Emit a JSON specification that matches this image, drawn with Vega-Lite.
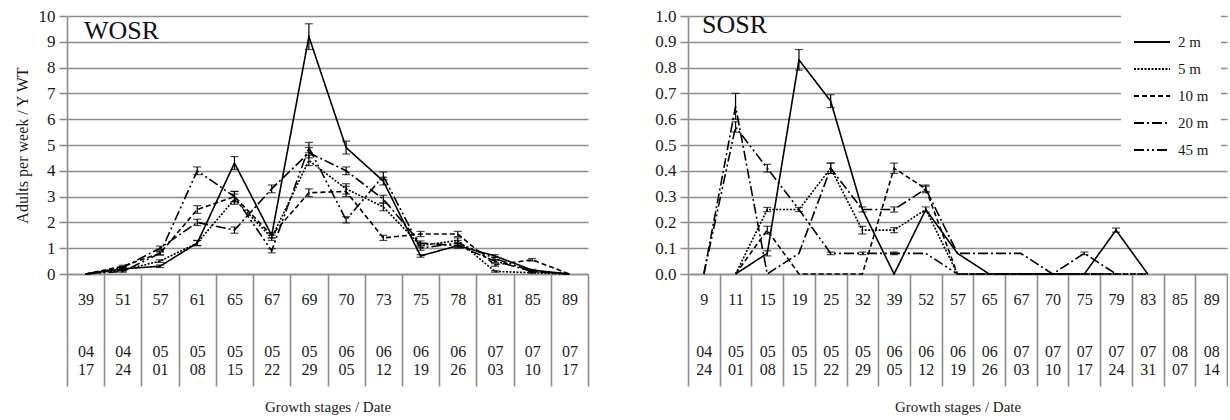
{
  "$schema": "https://vega.github.io/schema/vega-lite/v6.json",
  "background": "white",
  "padding": {"left": 14, "top": 7, "right": 0, "bottom": 0},
  "spacing": 65,
  "config": {
    "font": "Liberation Serif, Times New Roman, serif",
    "view": {"stroke": null},
    "axis": {
      "labelFont": "Liberation Serif, Times New Roman, serif",
      "titleFont": "Liberation Serif, Times New Roman, serif",
      "labelColor": "#1a1a1a",
      "titleColor": "#1a1a1a",
      "titleFontWeight": "normal",
      "gridColor": "#8c8c8c",
      "gridWidth": 1.6,
      "domainColor": "#8c8c8c",
      "domainWidth": 1.6,
      "tickColor": "#8c8c8c",
      "tickWidth": 1.6
    },
    "legend": {"labelFont": "Liberation Serif, Times New Roman, serif"}
  },
  "resolve": {"scale": {"strokeDash": "independent"}, "legend": {"strokeDash": "independent"}},
  "datasets": {
    "wosr": [
      {"s": "2 m", "gs": "39|04|17", "v": 0, "e": 0},
      {"s": "2 m", "gs": "51|04|24", "v": 0.2, "e": 0.04},
      {"s": "2 m", "gs": "57|05|01", "v": 0.3, "e": 0.05},
      {"s": "2 m", "gs": "61|05|08", "v": 1.2, "e": 0.1},
      {"s": "2 m", "gs": "65|05|15", "v": 4.3, "e": 0.25},
      {"s": "2 m", "gs": "67|05|22", "v": 1.5, "e": 0.1},
      {"s": "2 m", "gs": "69|05|29", "v": 9.2, "e": 0.5},
      {"s": "2 m", "gs": "70|06|05", "v": 4.9, "e": 0.25},
      {"s": "2 m", "gs": "73|06|12", "v": 3.6, "e": 0.15},
      {"s": "2 m", "gs": "75|06|19", "v": 0.7, "e": 0.05},
      {"s": "2 m", "gs": "78|06|26", "v": 1.1, "e": 0.1},
      {"s": "2 m", "gs": "81|07|03", "v": 0.7, "e": 0.05},
      {"s": "2 m", "gs": "85|07|10", "v": 0.15, "e": 0.03},
      {"s": "2 m", "gs": "89|07|17", "v": 0, "e": 0},
      {"s": "5 m", "gs": "39|04|17", "v": 0, "e": 0},
      {"s": "5 m", "gs": "51|04|24", "v": 0.15, "e": 0.03},
      {"s": "5 m", "gs": "57|05|01", "v": 0.5, "e": 0.05},
      {"s": "5 m", "gs": "61|05|08", "v": 1.2, "e": 0.1},
      {"s": "5 m", "gs": "65|05|15", "v": 2.9, "e": 0.2},
      {"s": "5 m", "gs": "67|05|22", "v": 1.4, "e": 0.1},
      {"s": "5 m", "gs": "69|05|29", "v": 4.4, "e": 0.2},
      {"s": "5 m", "gs": "70|06|05", "v": 3.3, "e": 0.2},
      {"s": "5 m", "gs": "73|06|12", "v": 2.6, "e": 0.15},
      {"s": "5 m", "gs": "75|06|19", "v": 1.1, "e": 0.08},
      {"s": "5 m", "gs": "78|06|26", "v": 1.3, "e": 0.1},
      {"s": "5 m", "gs": "81|07|03", "v": 0.1, "e": 0.03},
      {"s": "5 m", "gs": "85|07|10", "v": 0.05, "e": 0.02},
      {"s": "5 m", "gs": "89|07|17", "v": 0, "e": 0},
      {"s": "10 m", "gs": "39|04|17", "v": 0, "e": 0},
      {"s": "10 m", "gs": "51|04|24", "v": 0.3, "e": 0.04},
      {"s": "10 m", "gs": "57|05|01", "v": 0.8, "e": 0.06},
      {"s": "10 m", "gs": "61|05|08", "v": 2.5, "e": 0.15},
      {"s": "10 m", "gs": "65|05|15", "v": 3.0, "e": 0.2},
      {"s": "10 m", "gs": "67|05|22", "v": 1.5, "e": 0.1},
      {"s": "10 m", "gs": "69|05|29", "v": 3.15, "e": 0.15},
      {"s": "10 m", "gs": "70|06|05", "v": 3.2, "e": 0.2},
      {"s": "10 m", "gs": "73|06|12", "v": 1.4, "e": 0.1},
      {"s": "10 m", "gs": "75|06|19", "v": 1.55, "e": 0.1},
      {"s": "10 m", "gs": "78|06|26", "v": 1.55, "e": 0.1},
      {"s": "10 m", "gs": "81|07|03", "v": 0.35, "e": 0.05},
      {"s": "10 m", "gs": "85|07|10", "v": 0.55, "e": 0.05},
      {"s": "10 m", "gs": "89|07|17", "v": 0, "e": 0},
      {"s": "20 m", "gs": "39|04|17", "v": 0, "e": 0},
      {"s": "20 m", "gs": "51|04|24", "v": 0.25, "e": 0.04},
      {"s": "20 m", "gs": "57|05|01", "v": 1.0, "e": 0.08},
      {"s": "20 m", "gs": "61|05|08", "v": 2.0, "e": 0.12},
      {"s": "20 m", "gs": "65|05|15", "v": 1.7, "e": 0.12},
      {"s": "20 m", "gs": "67|05|22", "v": 3.3, "e": 0.15},
      {"s": "20 m", "gs": "69|05|29", "v": 4.7, "e": 0.2},
      {"s": "20 m", "gs": "70|06|05", "v": 4.0, "e": 0.15},
      {"s": "20 m", "gs": "73|06|12", "v": 2.9, "e": 0.15},
      {"s": "20 m", "gs": "75|06|19", "v": 1.2, "e": 0.08},
      {"s": "20 m", "gs": "78|06|26", "v": 1.1, "e": 0.08},
      {"s": "20 m", "gs": "81|07|03", "v": 0.5, "e": 0.05},
      {"s": "20 m", "gs": "85|07|10", "v": 0.1, "e": 0.02},
      {"s": "20 m", "gs": "89|07|17", "v": 0, "e": 0},
      {"s": "45 m", "gs": "39|04|17", "v": 0, "e": 0},
      {"s": "45 m", "gs": "51|04|24", "v": 0.1, "e": 0.03},
      {"s": "45 m", "gs": "57|05|01", "v": 0.8, "e": 0.06},
      {"s": "45 m", "gs": "61|05|08", "v": 4.0, "e": 0.15},
      {"s": "45 m", "gs": "65|05|15", "v": 3.0, "e": 0.2},
      {"s": "45 m", "gs": "67|05|22", "v": 0.9, "e": 0.08},
      {"s": "45 m", "gs": "69|05|29", "v": 4.9, "e": 0.2},
      {"s": "45 m", "gs": "70|06|05", "v": 2.1, "e": 0.12},
      {"s": "45 m", "gs": "73|06|12", "v": 3.8, "e": 0.15},
      {"s": "45 m", "gs": "75|06|19", "v": 1.0, "e": 0.08},
      {"s": "45 m", "gs": "78|06|26", "v": 1.2, "e": 0.1},
      {"s": "45 m", "gs": "81|07|03", "v": 0.6, "e": 0.05},
      {"s": "45 m", "gs": "85|07|10", "v": 0.1, "e": 0.02},
      {"s": "45 m", "gs": "89|07|17", "v": 0, "e": 0}
    ],
    "sosr": [
      {"s": "2 m", "gs": "11|05|01", "v": 0, "e": 0},
      {"s": "2 m", "gs": "15|05|08", "v": 0.08, "e": 0.01},
      {"s": "2 m", "gs": "19|05|15", "v": 0.83, "e": 0.04},
      {"s": "2 m", "gs": "25|05|22", "v": 0.67, "e": 0.025},
      {"s": "2 m", "gs": "32|05|29", "v": 0.25, "e": 0},
      {"s": "2 m", "gs": "39|06|05", "v": 0, "e": 0},
      {"s": "2 m", "gs": "52|06|12", "v": 0.25, "e": 0.01},
      {"s": "2 m", "gs": "57|06|19", "v": 0.08, "e": 0},
      {"s": "2 m", "gs": "65|06|26", "v": 0, "e": 0},
      {"s": "2 m", "gs": "67|07|03", "v": 0, "e": 0},
      {"s": "2 m", "gs": "70|07|10", "v": 0, "e": 0},
      {"s": "2 m", "gs": "75|07|17", "v": 0, "e": 0},
      {"s": "2 m", "gs": "79|07|24", "v": 0.17, "e": 0.008},
      {"s": "2 m", "gs": "83|07|31", "v": 0, "e": 0},
      {"s": "5 m", "gs": "11|05|01", "v": 0, "e": 0},
      {"s": "5 m", "gs": "15|05|08", "v": 0.25, "e": 0.008},
      {"s": "5 m", "gs": "19|05|15", "v": 0.25, "e": 0.008},
      {"s": "5 m", "gs": "25|05|22", "v": 0.41, "e": 0.02},
      {"s": "5 m", "gs": "32|05|29", "v": 0.17, "e": 0.015},
      {"s": "5 m", "gs": "39|06|05", "v": 0.17, "e": 0.01},
      {"s": "5 m", "gs": "52|06|12", "v": 0.25, "e": 0},
      {"s": "5 m", "gs": "57|06|19", "v": 0, "e": 0},
      {"s": "5 m", "gs": "65|06|26", "v": 0, "e": 0},
      {"s": "5 m", "gs": "67|07|03", "v": 0, "e": 0},
      {"s": "5 m", "gs": "70|07|10", "v": 0, "e": 0},
      {"s": "5 m", "gs": "75|07|17", "v": 0, "e": 0},
      {"s": "5 m", "gs": "79|07|24", "v": 0, "e": 0},
      {"s": "5 m", "gs": "83|07|31", "v": 0, "e": 0},
      {"s": "10 m", "gs": "11|05|01", "v": 0, "e": 0},
      {"s": "10 m", "gs": "15|05|08", "v": 0.17, "e": 0.015},
      {"s": "10 m", "gs": "19|05|15", "v": 0, "e": 0},
      {"s": "10 m", "gs": "25|05|22", "v": 0, "e": 0},
      {"s": "10 m", "gs": "32|05|29", "v": 0, "e": 0},
      {"s": "10 m", "gs": "39|06|05", "v": 0.41, "e": 0.02},
      {"s": "10 m", "gs": "52|06|12", "v": 0.33, "e": 0.015},
      {"s": "10 m", "gs": "57|06|19", "v": 0, "e": 0},
      {"s": "10 m", "gs": "65|06|26", "v": 0, "e": 0},
      {"s": "10 m", "gs": "67|07|03", "v": 0, "e": 0},
      {"s": "10 m", "gs": "70|07|10", "v": 0, "e": 0},
      {"s": "10 m", "gs": "75|07|17", "v": 0, "e": 0},
      {"s": "10 m", "gs": "79|07|24", "v": 0, "e": 0},
      {"s": "10 m", "gs": "83|07|31", "v": 0, "e": 0},
      {"s": "20 m", "gs": "9|04|24", "v": 0, "e": 0},
      {"s": "20 m", "gs": "11|05|01", "v": 0.65, "e": 0.05},
      {"s": "20 m", "gs": "15|05|08", "v": 0, "e": 0},
      {"s": "20 m", "gs": "19|05|15", "v": 0.08, "e": 0},
      {"s": "20 m", "gs": "25|05|22", "v": 0.41, "e": 0.02},
      {"s": "20 m", "gs": "32|05|29", "v": 0.25, "e": 0.01},
      {"s": "20 m", "gs": "39|06|05", "v": 0.25, "e": 0.01},
      {"s": "20 m", "gs": "52|06|12", "v": 0.33, "e": 0.01},
      {"s": "20 m", "gs": "57|06|19", "v": 0.08, "e": 0},
      {"s": "20 m", "gs": "65|06|26", "v": 0.08, "e": 0},
      {"s": "20 m", "gs": "67|07|03", "v": 0.08, "e": 0},
      {"s": "20 m", "gs": "70|07|10", "v": 0, "e": 0},
      {"s": "20 m", "gs": "75|07|17", "v": 0.08, "e": 0.005},
      {"s": "20 m", "gs": "79|07|24", "v": 0, "e": 0},
      {"s": "45 m", "gs": "9|04|24", "v": 0, "e": 0},
      {"s": "45 m", "gs": "11|05|01", "v": 0.57, "e": 0.02},
      {"s": "45 m", "gs": "15|05|08", "v": 0.41, "e": 0.015},
      {"s": "45 m", "gs": "19|05|15", "v": 0.25, "e": 0},
      {"s": "45 m", "gs": "25|05|22", "v": 0.08, "e": 0.005},
      {"s": "45 m", "gs": "32|05|29", "v": 0.08, "e": 0.005},
      {"s": "45 m", "gs": "39|06|05", "v": 0.08, "e": 0.005},
      {"s": "45 m", "gs": "52|06|12", "v": 0.08, "e": 0},
      {"s": "45 m", "gs": "57|06|19", "v": 0, "e": 0},
      {"s": "45 m", "gs": "65|06|26", "v": 0, "e": 0},
      {"s": "45 m", "gs": "67|07|03", "v": 0, "e": 0},
      {"s": "45 m", "gs": "70|07|10", "v": 0, "e": 0},
      {"s": "45 m", "gs": "75|07|17", "v": 0, "e": 0},
      {"s": "45 m", "gs": "79|07|24", "v": 0, "e": 0}
    ]
  },
  "hconcat": [
    {
      "width": 521,
      "height": 258,
      "title": {"text": "WOSR", "anchor": "start", "frame": "group", "offset": -37, "dx": 17, "fontSize": 26, "font": "Liberation Serif, Times New Roman, serif", "fontWeight": "normal", "color": "#111111"},
      "data": {"name": "wosr"},
      "encoding": {
        "x": {
          "field": "gs", "type": "ordinal",
          "scale": {"type": "band", "paddingInner": 0, "paddingOuter": 0, "domain": ["39|04|17", "51|04|24", "57|05|01", "61|05|08", "65|05|15", "67|05|22", "69|05|29", "70|06|05", "73|06|12", "75|06|19", "78|06|26", "81|07|03", "85|07|10", "89|07|17"]},
          "axis": {"title": "Growth stages / Date", "titleFontSize": 15, "titlePadding": 13, "labelAngle": 0, "labelFontSize": 16, "labelExpr": "isString(datum.value) ? [split(datum.value,'|')[0], '\u2800', '\u2800', split(datum.value,'|')[1], split(datum.value,'|')[2]] : ''", "labelLineHeight": 17.5, "labelBaseline": "top", "labelOverlap": false, "labelBound": false, "labelFlush": false, "tickBand": "extent", "tickSize": 112, "labelPadding": -95, "grid": false}
        },
        "y": {"field": "v", "type": "quantitative", "scale": {"domain": [0, 10]}, "axis": {"values": [0, 1, 2, 3, 4, 5, 6, 7, 8, 9, 10], "title": "Adults per week / Y WT", "titleFontSize": 16, "titlePadding": 8, "labelFontSize": 17, "tickSize": 8, "labelPadding": 4, "grid": true}}
      },
      "layer": [
        {
          "mark": {"type": "line", "color": "#000000", "strokeWidth": 1.6},
          "encoding": {
            "strokeDash": {"field": "s", "type": "nominal", "scale": {"domain": ["2 m", "5 m", "10 m", "20 m", "45 m"], "range": [[1, 0], [2, 1.5], [5, 3], [10, 3, 2, 3], [10, 3, 2, 3, 2, 3]]}, "legend": null}
          }
        },
        {
          "transform": [{"filter": "datum.e > 0"}],
          "mark": {"type": "errorbar", "ticks": {"size": 8, "color": "#000000"}, "color": "#000000", "thickness": 1.2},
          "encoding": {
            "yError": {"field": "e"}
          }
        }
      ]
    },
    {
      "width": 539,
      "height": 258,
      "title": {"text": "SOSR", "anchor": "start", "frame": "group", "offset": -31, "dx": 14, "fontSize": 26, "font": "Liberation Serif, Times New Roman, serif", "fontWeight": "normal", "color": "#111111"},
      "data": {"name": "sosr"},
      "encoding": {
        "x": {
          "field": "gs", "type": "ordinal",
          "scale": {"type": "band", "paddingInner": 0, "paddingOuter": 0, "domain": ["9|04|24", "11|05|01", "15|05|08", "19|05|15", "25|05|22", "32|05|29", "39|06|05", "52|06|12", "57|06|19", "65|06|26", "67|07|03", "70|07|10", "75|07|17", "79|07|24", "83|07|31", "85|08|07", "89|08|14"]},
          "axis": {"title": "Growth stages / Date", "titleFontSize": 15, "titlePadding": 13, "labelAngle": 0, "labelFontSize": 16, "labelExpr": "isString(datum.value) ? [split(datum.value,'|')[0], '\u2800', '\u2800', split(datum.value,'|')[1], split(datum.value,'|')[2]] : ''", "labelLineHeight": 17.5, "labelBaseline": "top", "labelOverlap": false, "labelBound": false, "labelFlush": false, "tickBand": "extent", "tickSize": 112, "labelPadding": -95, "grid": false}
        },
        "y": {"field": "v", "type": "quantitative", "scale": {"domain": [0, 1]}, "axis": {"values": [0, 0.1, 0.2, 0.3, 0.4, 0.5, 0.6, 0.7, 0.8, 0.9, 1.0], "format": ".1f", "title": null, "labelFontSize": 17, "tickSize": 8, "labelPadding": 4, "grid": true}}
      },
      "layer": [
        {
          "mark": {"type": "line", "color": "#000000", "strokeWidth": 1.6},
          "encoding": {
            "strokeDash": {"field": "s", "type": "nominal", "scale": {"domain": ["2 m", "5 m", "10 m", "20 m", "45 m"], "range": [[1, 0], [2, 1.5], [5, 3], [10, 3, 2, 3], [10, 3, 2, 3, 2, 3]]},
              "legend": {"orient": "none", "legendX": 433, "legendY": -5, "title": null, "symbolType": "stroke", "symbolSize": 1300, "symbolStrokeWidth": 1.8, "symbolStrokeColor": "#000000", "labelFontSize": 15, "labelColor": "#1a1a1a", "labelOffset": 7, "rowPadding": 0, "padding": 12, "fillColor": "white"}}
          }
        },
        {
          "transform": [{"filter": "datum.e > 0"}],
          "mark": {"type": "errorbar", "ticks": {"size": 8, "color": "#000000"}, "color": "#000000", "thickness": 1.2},
          "encoding": {
            "yError": {"field": "e"}
          }
        }
      ]
    }
  ]
}
